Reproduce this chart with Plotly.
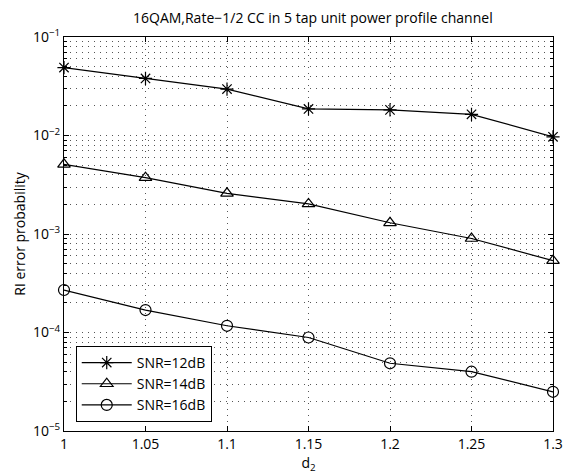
import plotly.graph_objects as go

d2 = [1.0, 1.05, 1.1, 1.15, 1.2, 1.25, 1.3]
snr12 = [0.0489, 0.038, 0.0296, 0.0186, 0.0182, 0.0164, 0.0097]
snr14 = [0.0051, 0.00373, 0.00259, 0.00202, 0.0013, 0.0009, 0.000536]
snr16 = [0.00027, 0.000169, 0.000117, 0.000089, 0.0000487, 0.00004, 0.000025]
series_names = ["SNR=12dB", "SNR=14dB", "SNR=16dB"]
xticks = [1, 1.05, 1.1, 1.15, 1.2, 1.25, 1.3]
xticktext = ["1", "1.05", "1.1", "1.15", "1.2", "1.25", "1.3"]
yticks = [1e-5, 1e-4, 1e-3, 1e-2, 1e-1]
yticktext = ["10<sup>−5</sup>", "10<sup>−4</sup>", "10<sup>−3</sup>", "10<sup>−2</sup>", "10<sup>−1</sup>"]

FONT = "Open Sans"
fig = go.Figure()
for ys, name, sym in zip([snr12, snr14, snr16], series_names,
                         ["asterisk-open", "triangle-up-open", "circle-open"]):
    fig.add_trace(go.Scatter(
        x=d2, y=ys, name=name, mode="lines+markers",
        line=dict(color="black", width=1.2),
        marker=dict(symbol=sym, size=11, color="black",
                    line=dict(color="black", width=1.2)),
        cliponaxis=False,
    ))

grid = dict(showgrid=True, gridcolor="#555555", gridwidth=1, griddash="1px,5px")
fig.update_layout(
    width=573, height=475,
    margin=dict(l=64, r=10, t=37, b=44),
    paper_bgcolor="white", plot_bgcolor="white",
    font=dict(family=FONT, size=14, color="black"),
    title=dict(text="16QAM,Rate−1/2 CC in 5 tap unit power profile channel",
               x=0.546, xanchor="center", y=0.962, yanchor="middle",
               font=dict(family=FONT, size=14, color="black")),
    showlegend=True,
    legend=dict(x=0.024, y=0.023, xanchor="left", yanchor="bottom",
                bordercolor="black", borderwidth=1, bgcolor="white",
                font=dict(family=FONT, size=14, color="black"),
                tracegroupgap=0, itemwidth=50),
    xaxis=dict(range=[1, 1.3], tickvals=xticks, ticktext=xticktext,
               ticks="inside", ticklen=5, tickcolor="black",
               showline=True, linecolor="black", linewidth=1, mirror="ticks",
               zeroline=False,
               title=dict(text="d<sub>2</sub>", standoff=0,
                          font=dict(family=FONT, size=14)),
               tickfont=dict(family=FONT, size=14), **grid),
    yaxis=dict(type="log", range=[-5, -1], tickvals=yticks, ticktext=yticktext,
               ticks="inside", ticklen=5, tickcolor="black",
               showline=True, linecolor="black", linewidth=1, mirror="ticks",
               zeroline=False,
               title=dict(text="RI error probability", standoff=4,
                          font=dict(family=FONT, size=14)),
               tickfont=dict(family=FONT, size=14),
               minor=dict(ticks="inside", ticklen=3, tickcolor="black",
                          dtick="D1", showgrid=True, gridcolor="#555555",
                          gridwidth=1, griddash="1px,5px"),
               **grid),
)
fig.write_html("out.html")
